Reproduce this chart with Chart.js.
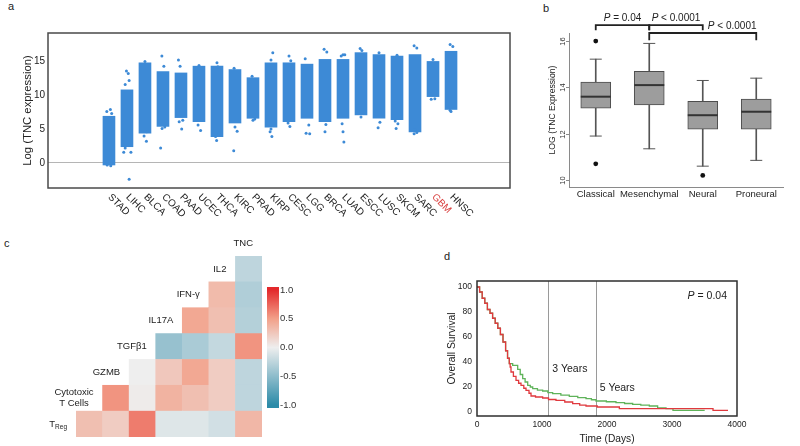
<!DOCTYPE html>
<html><head><meta charset="utf-8">
<script src="https://cdn.jsdelivr.net/npm/chart.js@4.4.1/dist/chart.umd.min.js"></script>
<style>
html,body{margin:0;padding:0;background:#fff}
body{width:800px;height:446px;position:relative;overflow:hidden;font-family:"Liberation Sans",Arial,sans-serif;color:#222}
.box{position:absolute}
.tag{position:absolute;font-size:11px;line-height:11px;color:#222}
</style></head><body>
<div class="tag" style="left:8px;top:1px">a</div>
<div class="tag" style="left:543px;top:3px">b</div>
<div class="tag" style="left:4px;top:238px">c</div>
<div class="tag" style="left:444px;top:251px">d</div>
<div class="box" style="left:0;top:0;width:530px;height:225px"><canvas id="cA"></canvas></div>
<div class="box" style="left:530px;top:0;width:270px;height:225px"><canvas id="cB"></canvas></div>
<div class="box" style="left:0;top:230px;width:265px;height:216px"><canvas id="cC"></canvas></div>
<div class="box" style="left:262px;top:277px;width:50px;height:141px"><canvas id="cBar"></canvas></div>
<div class="box" style="left:440px;top:230px;width:360px;height:216px"><canvas id="cD"></canvas></div>
<script>
// ---------- Panel a data ----------
const stripCats = ['STAD','LIHC','BLCA','COAD','PAAD','UCEC','THCA','KIRC','PRAD','KIRP','CESC','LGG','BRCA','LUAD','ESCC','LUSC','SKCM','SARC','GBM','HNSC'];
const stripLow  = [-0.3, 2.4, 4.4, 5.4, 6.7, 6.1, 3.9, 5.9, 6.6, 5.3, 6.1, 6.6, 6.1, 6.6, 7.1, 6.6, 6.4, 4.6, 9.8, 7.9];
const stripHigh = [6.9, 10.8, 14.8, 13.5, 13.3, 14.3, 14.3, 13.8, 12.6, 14.8, 14.8, 14.6, 15.3, 15.3, 16.3, 16.0, 15.8, 16.0, 15.0, 16.5];
const stripOutliers = [
  [0.08,7.9],[-0.12,7.6],[0.15,7.3],[-0.1,-0.3],[0.1,-0.4],
  [0.97,13.6],[1.07,13.2],[1.12,12.2],[0.9,11.6],[1.12,-2.4],[0.82,1.6],[1.22,1.6],[0.9,2.2],[1.15,2.6],
  [2.08,3.2],[1.95,4.0],[2.1,4.6],[2.0,15.0],
  [2.94,15.8],[2.87,2.2],[2.95,5.1],[3.1,5.3],[3.05,14.3],
  [3.86,15.2],[4.04,5.0],[3.9,6.1],[4.1,6.3],[3.95,14.3],
  [5.09,4.8],[4.95,5.6],[5.0,14.4],
  [5.98,3.3],[5.92,3.9],[6.1,4.4],[6.0,14.8],[6.05,14.2],
  [6.93,1.8],[7.12,4.7],[7.0,5.3],[6.95,14.0],
  [8.0,6.3],[7.95,12.8],[8.1,6.5],
  [9.1,16.3],[9.05,3.9],[8.95,4.6],[9.0,5.0],[9.0,15.2],
  [10.0,15.8],[10.05,5.4],[9.95,5.9],[10.1,15.1],
  [10.9,15.4],[10.95,4.4],[11.15,4.3],[11.1,5.6],
  [11.95,16.8],[12.1,16.4],[12.05,5.7],[12.0,4.6],
  [13.0,16.0],[12.9,15.8],[13.1,16.0],[13.0,4.6],[13.05,3.1],[12.95,5.8],
  [13.95,16.9],[14.05,16.6],[14.0,6.8],
  [15.0,16.3],[14.95,5.2],[15.05,6.0],
  [16.0,15.9],[15.95,5.1],[16.05,5.8],[15.9,6.2],
  [16.95,17.3],[17.1,17.0],[16.95,4.3],[17.1,4.5],[17.0,4.9],
  [18.0,15.3],[17.9,9.4],[18.1,9.5],
  [18.95,17.5],[19.1,17.2],[19.0,7.6],[18.95,7.8]
];
const stripTicks = [0, 5, 10, 15];
const highlightCat = 'GBM';

// ---------- Panel b data ----------
const boxGroups   = ['Classical','Mesenchymal','Neural','Proneural'];
const boxWhiskLo  = [11.9, 11.35, 10.6, 10.85];
const boxQ1       = [13.1, 13.24, 12.2, 12.2];
const boxMedian   = [13.6, 14.1, 12.8, 12.95];
const boxQ3       = [14.23, 14.7, 13.4, 13.5];
const boxWhiskHi  = [15.22, 15.9, 14.3, 14.4];
const boxOutGroup = ['Classical','Classical','Neural'];
const boxOutValue = [16.0, 10.7, 10.2];
const boxTicks    = [10, 12, 14, 16];
const brackets = [
  {from:0, to:1, line:16.69, drop:16.47, labelAt:0.5,  op:'= 0.04'},
  {from:1, to:2, line:16.69, drop:16.47, labelAt:1.5,  op:'< 0.0001'},
  {from:1, to:3, line:16.35, drop:16.04, labelAt:2.55, op:'< 0.0001'}
];

// ---------- Panel c data ----------
const heatCols = ['Cytotoxic T Cells','GZMB','TGFβ1','IL17A','IFN-γ','IL2','TNC'];
const heatRows = ['TReg','Cytotoxic T Cells','GZMB','TGFβ1','IL17A','IFN-γ','IL2'];
const corr = [
  [0.30, 0.22, 0.65, -0.08, -0.08, -0.15, 0.35],
  [null, 0.55, 0.02, 0.38, 0.30, 0.22, -0.25],
  [null, null, 0.00, 0.25, 0.45, 0.22, -0.25],
  [null, null, null, -0.45, -0.35, -0.22, 0.55],
  [null, null, null, null, 0.45, 0.30, -0.30],
  [null, null, null, null, null, 0.33, -0.32],
  [null, null, null, null, null, null, -0.25]
];
const corrStops = [[-1,'#2b8ba8'],[-0.5,'#8dbccb'],[0,'#eeeeee'],[0.5,'#f2a089'],[1,'#e3292c']];
const colorbarTicks = [-1, -0.5, 0, 0.5, 1];

// ---------- Panel d data ----------
const kmGreenT = [0,40,80,120,160,200,240,280,320,360,400,440,470,497,549,626,665,703,740,780,820,857,930,1010,1090,1164,1290,1420,1550,1677,1760,1831,1990,2138,2270,2395,2520,2651,2779,2908,3015,3503];
const kmGreenS = [100,96,91,87,82,79,75,71,67,62,56,49,43,38.7,37.3,34.1,30,26.7,24,21.3,20,18.7,17.5,16.8,15.5,14.7,13.5,12.5,11.5,10.7,9.8,8.8,8.2,7.5,6.8,6.1,5.5,4.8,3.2,2.7,1.3,1.3];
const kmRedT = [0,40,80,120,160,200,240,280,320,360,400,440,470,497,510,523,560,600,640,677,720,754,800,831,900,1010,1100,1215,1350,1472,1580,1677,1850,2190,3631,3862];
const kmRedS = [100,96,91,87,82,79,75,71,67,62,56,49,43,38.7,36,32,28.5,25.3,23,21.3,19,17.3,15,12.8,12,11.2,10,9.3,8,6.7,5.5,4.8,4,2.7,1.3,1.3];
const kmXTicks = [0,1000,2000,3000,4000];
const kmYTicks = [0,20,40,60,80,100];
const yearMarks = [1095, 1825];
const yearNotes = [{text:'3 Years', x:1095, y:34.5}, {text:'5 Years', x:1825, y:19.2}];
const kmP = {op:'= 0.04', x:3846, y:92.8};

// ---------- common ----------
const FONT = '"Liberation Sans", Arial, sans-serif';
Chart.defaults.font.family = FONT;
Chart.defaults.color = '#222';
Chart.defaults.animation = false;
const BLUE = '#3d8ad6';
const base = {responsive:true, maintainAspectRatio:false, animation:false, events:[],
  plugins:{legend:{display:false}, tooltip:{enabled:false}}};
function fixW(w){return s=>{s.width=w;};}
function fixH(h){return s=>{s.height=h;};}
function setTicks(arr){return s=>{s.ticks=arr.map(v=>({value:v}));};}
function frame(color,width){return {id:'frame', afterDatasetsDraw(ch){const a=ch.chartArea,c=ch.ctx;c.save();c.strokeStyle=color;c.lineWidth=width;c.strokeRect(a.left,a.top,a.right-a.left,a.bottom-a.top);c.restore();}};}
function hex2rgb(h){return [parseInt(h.slice(1,3),16),parseInt(h.slice(3,5),16),parseInt(h.slice(5,7),16)];}
function corrColor(v){
  for(let i=0;i<corrStops.length-1;i++){
    const [v0,c0]=corrStops[i],[v1,c1]=corrStops[i+1];
    if(v>=v0 && v<=v1){const t=(v-v0)/(v1-v0),a=hex2rgb(c0),b=hex2rgb(c1);
      return 'rgb('+a.map((x,k)=>Math.round(x+(b[k]-x)*t)).join(',')+')';}
  }
  return corrStops[corrStops.length-1][1];
}
function drawP(ctx, op, x, y, align, size){
  ctx.font='italic '+size+'px '+FONT; const wP=ctx.measureText('P').width;
  ctx.font=size+'px '+FONT; const wR=ctx.measureText(' '+op).width;
  const tot=wP+wR; let x0 = align==='center'? x-tot/2 : (align==='right'? x-tot : x);
  ctx.textAlign='left'; ctx.textBaseline='middle';
  ctx.font='italic '+size+'px '+FONT; ctx.fillText('P',x0,y);
  ctx.font=size+'px '+FONT; ctx.fillText(' '+op,x0+wP,y);
}

// ---------- Panel a ----------
new Chart(document.getElementById('cA'), {
  type:'bar',
  data:{datasets:[
    {type:'scatter', data:stripOutliers.map(o=>({x:o[0],y:o[1]})), pointRadius:1.5, pointBackgroundColor:BLUE, pointBorderWidth:0, order:0},
    {type:'bar', data:stripCats.map((c,i)=>({x:i,y:[stripLow[i],stripHigh[i]]})), backgroundColor:BLUE, borderWidth:0, barThickness:12, order:1}
  ]},
  options:Object.assign({}, base, {
    layout:{padding:{top:33,right:20,left:0,bottom:0}},
    scales:{
      x:{type:'linear', min:-0.82, max:19.71, grid:{display:false}, border:{display:false}, ticks:{display:false}, afterFit:fixH(37)},
      y:{min:-3.7, max:19.2, afterBuildTicks:setTicks(stripTicks),
         grid:{color:c=>(c.tick && c.tick.value===0)?'#b5b5b5':'rgba(0,0,0,0)', drawTicks:false, lineWidth:1},
         border:{display:false}, ticks:{font:{size:10}, color:'#222', padding:3},
         title:{display:true, text:'Log (TNC expression)', font:{size:11.3}, color:'#222', padding:{top:21,bottom:0}},
         afterFit:fixW(48)}
    }
  }),
  plugins:[frame('#4a4a4a',1.5), {id:'stripLabels', afterDraw(ch){
    const c=ch.ctx, xs=ch.scales.x, a=ch.chartArea; c.save();
    c.font='10px '+FONT; c.textAlign='left'; c.textBaseline='middle';
    stripCats.forEach((name,i)=>{const px=xs.getPixelForValue(i);
      c.save(); c.translate(px+0.5, a.bottom+7.5); c.rotate(Math.PI/4);
      c.fillStyle = name===highlightCat ? '#d9403f' : '#222'; c.fillText(name,0,0); c.restore();});
    c.restore();}}]
});

// ---------- Panel b ----------
new Chart(document.getElementById('cB'), {
  type:'bar',
  data:{labels:boxGroups, datasets:[
    {type:'line', data:boxOutGroup.map((g,i)=>({x:g,y:boxOutValue[i]})), showLine:false, pointRadius:2.4, pointBackgroundColor:'#111', pointBorderWidth:0, order:0},
    {type:'line', data:boxMedian, showLine:false, pointStyle:'line', pointRadius:15, pointBorderColor:'#333', pointBorderWidth:2, order:1},
    {type:'line', data:boxWhiskHi, showLine:false, pointStyle:'line', pointRadius:6, pointBorderColor:'#555', pointBorderWidth:1, order:2},
    {type:'line', data:boxWhiskLo, showLine:false, pointStyle:'line', pointRadius:6, pointBorderColor:'#555', pointBorderWidth:1, order:2},
    {type:'bar', data:boxGroups.map((g,i)=>[boxQ1[i],boxQ3[i]]), backgroundColor:'#9d9d9d', borderColor:'#4d4d4d', borderWidth:1, borderSkipped:false, barThickness:30, grouped:false, order:3},
    {type:'bar', data:boxGroups.map((g,i)=>[boxWhiskLo[i],boxWhiskHi[i]]), backgroundColor:'#555', borderWidth:0, barThickness:1, grouped:false, order:4}
  ]},
  options:Object.assign({}, base, {
    layout:{padding:{top:33,right:2,left:0,bottom:0}},
    scales:{
      x:{type:'category', offset:true, grid:{display:false, drawTicks:false}, border:{display:true,color:'#8a8a8a',width:1},
         ticks:{font:{size:9.5}, color:'#222', padding:2, maxRotation:0, minRotation:0, autoSkip:false}, afterFit:fixH(38)},
      y:{min:9.70, max:16.35, afterBuildTicks:setTicks(boxTicks), grid:{display:false, drawTicks:false},
         border:{display:true,color:'#8a8a8a',width:1}, ticks:{display:false},
         title:{display:true, text:'LOG (TNC Expression)', font:{size:8.6}, color:'#222', padding:{top:17,bottom:0}},
         afterFit:fixW(39)}
    }
  }),
  plugins:[{id:'bExtras', afterDraw(ch){
    const c=ch.ctx, xs=ch.scales.x, ys=ch.scales.y, a=ch.chartArea; c.save();
    c.strokeStyle='#8a8a8a'; c.lineWidth=1; c.fillStyle='#333'; c.font='7.5px '+FONT; c.textAlign='center'; c.textBaseline='middle';
    boxTicks.forEach(v=>{const py=Math.round(ys.getPixelForValue(v))+0.5;
      c.beginPath(); c.moveTo(a.left-3,py); c.lineTo(a.left,py); c.stroke();
      c.save(); c.translate(a.left-6.5,py); c.rotate(-Math.PI/2); c.fillText(String(v),0,0); c.restore();});
    c.strokeStyle='#222'; c.lineWidth=1.8; c.fillStyle='#222';
    brackets.forEach(b=>{const x0=xs.getPixelForValue(b.from), x1=xs.getPixelForValue(b.to), yl=ys.getPixelForValue(b.line), yd=ys.getPixelForValue(b.drop);
      c.beginPath(); c.moveTo(x0,yd); c.lineTo(x0,yl); c.lineTo(x1,yl); c.lineTo(x1,yd); c.stroke();
      drawP(c, b.op, xs.getPixelForValue(b.labelAt), yl-7, 'center', 10);});
    c.restore();}}]
});

// ---------- Panel c (heatmap) ----------
new Chart(document.getElementById('cC'), {
  type:'bar',
  data:{labels:heatCols, datasets:heatRows.map((r,ri)=>({
    label:r,
    data:heatCols.map((col,ci)=> corr[ri][ci]===null ? null : [ri, ri+1]),
    backgroundColor:heatCols.map((col,ci)=> corr[ri][ci]===null ? 'rgba(0,0,0,0)' : corrColor(corr[ri][ci])),
    borderWidth:0, barPercentage:1, categoryPercentage:1, grouped:false
  }))},
  options:Object.assign({}, base, {
    layout:{padding:{top:26,right:3,left:76,bottom:9}},
    scales:{
      x:{type:'category', offset:true, display:false},
      y:{min:0, max:7, display:false}
    }
  }),
  plugins:[{id:'heatLabels', afterDraw(ch){
    const c=ch.ctx, xs=ch.scales.x, ys=ch.scales.y;
    const cw = xs.getPixelForValue(1)-xs.getPixelForValue(0);
    const names = [heatRows[0]].concat(heatCols);
    c.save(); c.fillStyle='#222'; c.textBaseline='middle';
    names.forEach((name,k)=>{
      const right = xs.getPixelForValue(k-1) + cw/2 - 9;
      const cy = ys.getPixelForValue(k+0.5);
      if(name==='TReg'){
        c.font='9.5px '+FONT; const wT=c.measureText('T').width;
        c.font='6.5px '+FONT; const wS=c.measureText('Reg').width;
        const x0=right-wT-wS; c.textAlign='left';
        c.font='9.5px '+FONT; c.fillText('T',x0,cy);
        c.font='6.5px '+FONT; c.fillText('Reg',x0+wT,cy+3);
      } else if(name==='Cytotoxic T Cells'){
        c.font='9.5px '+FONT; const lines=['Cytotoxic','T Cells'];
        const mw=Math.max(...lines.map(l=>c.measureText(l).width));
        c.textAlign='center'; c.fillText(lines[0], right-mw/2, cy-5.5); c.fillText(lines[1], right-mw/2, cy+5.5);
      } else {
        c.font='9.5px '+FONT; c.textAlign='right'; c.fillText(name, right, cy);
      }
    });
    c.restore();}}]
});

// ---------- colorbar ----------
new Chart(document.getElementById('cBar'), {
  type:'bar',
  data:{labels:['r'], datasets:[{data:[[-1.05,1.05]], borderWidth:0, barPercentage:1, categoryPercentage:1,
    backgroundColor:(ctx)=>{const ch=ctx.chart, ys=ch.scales.y; if(!ys||!ch.chartArea) return '#ddd';
      const g=ch.ctx.createLinearGradient(0,ys.getPixelForValue(-1),0,ys.getPixelForValue(1));
      corrStops.forEach(([v,col])=>g.addColorStop((v+1)/2,col)); return g;}}]},
  options:Object.assign({}, base, {
    layout:{padding:{top:10,right:0,left:5,bottom:10}},
    scales:{
      x:{type:'category', display:false},
      y:{position:'right', min:-1.05, max:1.05, afterBuildTicks:setTicks(colorbarTicks), grid:{display:false, drawTicks:false},
         border:{display:false}, ticks:{font:{size:9.5}, color:'#333', padding:1, callback:v=>Number(v).toFixed(1)}, afterFit:fixW(33)}
    }
  })
});

// ---------- Panel d ----------
new Chart(document.getElementById('cD'), {
  type:'line',
  data:{datasets:[
    {data:kmRedT.map((t,i)=>({x:t,y:kmRedS[i]})), borderColor:'#e0393e', borderWidth:1.3, pointRadius:0, stepped:'before', fill:false},
    {data:kmGreenT.map((t,i)=>({x:t,y:kmGreenS[i]})), borderColor:'#5fb35a', borderWidth:1.3, pointRadius:0, stepped:'before', fill:false}
  ]},
  options:Object.assign({}, base, {
    layout:{padding:{top:51,right:63,left:0,bottom:0}},
    scales:{
      x:{type:'linear', min:0, max:4000, afterBuildTicks:setTicks(kmXTicks), grid:{display:false, drawTicks:false}, border:{display:false},
         ticks:{font:{size:8.5}, color:'#222', padding:4, callback:v=>String(v)},
         title:{display:true, text:'Time (Days)', font:{size:10.2}, color:'#222', padding:{top:0,bottom:1}}, afterFit:fixH(30)},
      y:{min:-3.2, max:104.8, afterBuildTicks:setTicks(kmYTicks), grid:{display:false, drawTicks:false}, border:{display:false},
         ticks:{font:{size:8.5}, color:'#222', padding:5, callback:v=>String(v)},
         title:{display:true, text:'Overall Survival', font:{size:10.3}, color:'#222', padding:{top:6,bottom:0}}, afterFit:fixW(37)}
    }
  }),
  plugins:[{id:'years', beforeDatasetsDraw(ch){
      const c=ch.ctx, xs=ch.scales.x, a=ch.chartArea; c.save(); c.strokeStyle='#9a9a9a'; c.lineWidth=1;
      yearMarks.forEach(d=>{const px=Math.round(xs.getPixelForValue(d))+0.5; c.beginPath(); c.moveTo(px,a.top); c.lineTo(px,a.bottom); c.stroke();});
      c.restore();},
    afterDraw(ch){
      const c=ch.ctx, xs=ch.scales.x, ys=ch.scales.y; c.save(); c.fillStyle='#222';
      c.font='10.5px '+FONT; c.textAlign='left'; c.textBaseline='middle';
      yearNotes.forEach(n=>c.fillText(n.text, xs.getPixelForValue(n.x)+4, ys.getPixelForValue(n.y)));
      drawP(c, kmP.op, xs.getPixelForValue(kmP.x), ys.getPixelForValue(kmP.y), 'right', 10.5);
      c.restore();}},
    frame('#2e2e2e',1.5)]
});
</script>
</body></html>
